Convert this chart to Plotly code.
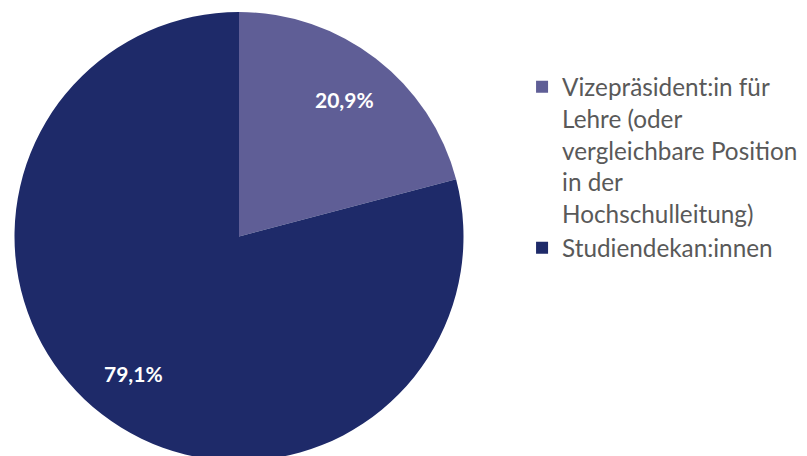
import math
import plotly.graph_objects as go

labels = ["Vizepräsident:in für<br>Lehre (oder<br>vergleichbare Position<br>in der<br>Hochschulleitung)",
          "Studiendekan:innen"]
values = [20.9, 79.1]
text_labels = ["20,9%", "79,1%"]
colors = ["#5F5E96", "#1E2A69"]

W, H = 807, 456
CX, CY, R = 231.0, 228.5, 224.5   # pie centre / radius in figure pixels
LABEL_R = 0.77

fig = go.Figure(go.Pie(
    labels=labels,
    values=values,
    textinfo="none",
    marker=dict(colors=colors, line=dict(width=0)),
    sort=False,
    direction="clockwise",
    rotation=0,
    hoverinfo="label+percent",
    domain=dict(x=[(CX - R) / W, (CX + R) / W],
                y=[(H - CY - R) / H, (H - CY + R) / H]),
))

# data labels placed on each slice's bisector
total = sum(values)
cum = 0.0
for v, t in zip(values, text_labels):
    mid = (cum + v / 2) / total * 2 * math.pi
    cum += v
    px = CX + LABEL_R * R * math.sin(mid)
    py = CY - LABEL_R * R * math.cos(mid)
    fig.add_annotation(
        x=px / W, y=1 - py / H, xref="paper", yref="paper",
        text=t, showarrow=False, xanchor="center", yanchor="middle",
        font=dict(family="Lato", size=21, color="white", weight="bold"),
    )

fig.update_layout(
    width=W, height=H,
    margin=dict(l=0, r=0, t=0, b=0),
    paper_bgcolor="white",
    showlegend=True,
    legend=dict(
        x=0.637, y=0.876, xanchor="left", yanchor="top",
        valign="top",
        font=dict(family="Lato", size=24.3, color="#595959"),
    ),
)

fig.write_html("out.html")
